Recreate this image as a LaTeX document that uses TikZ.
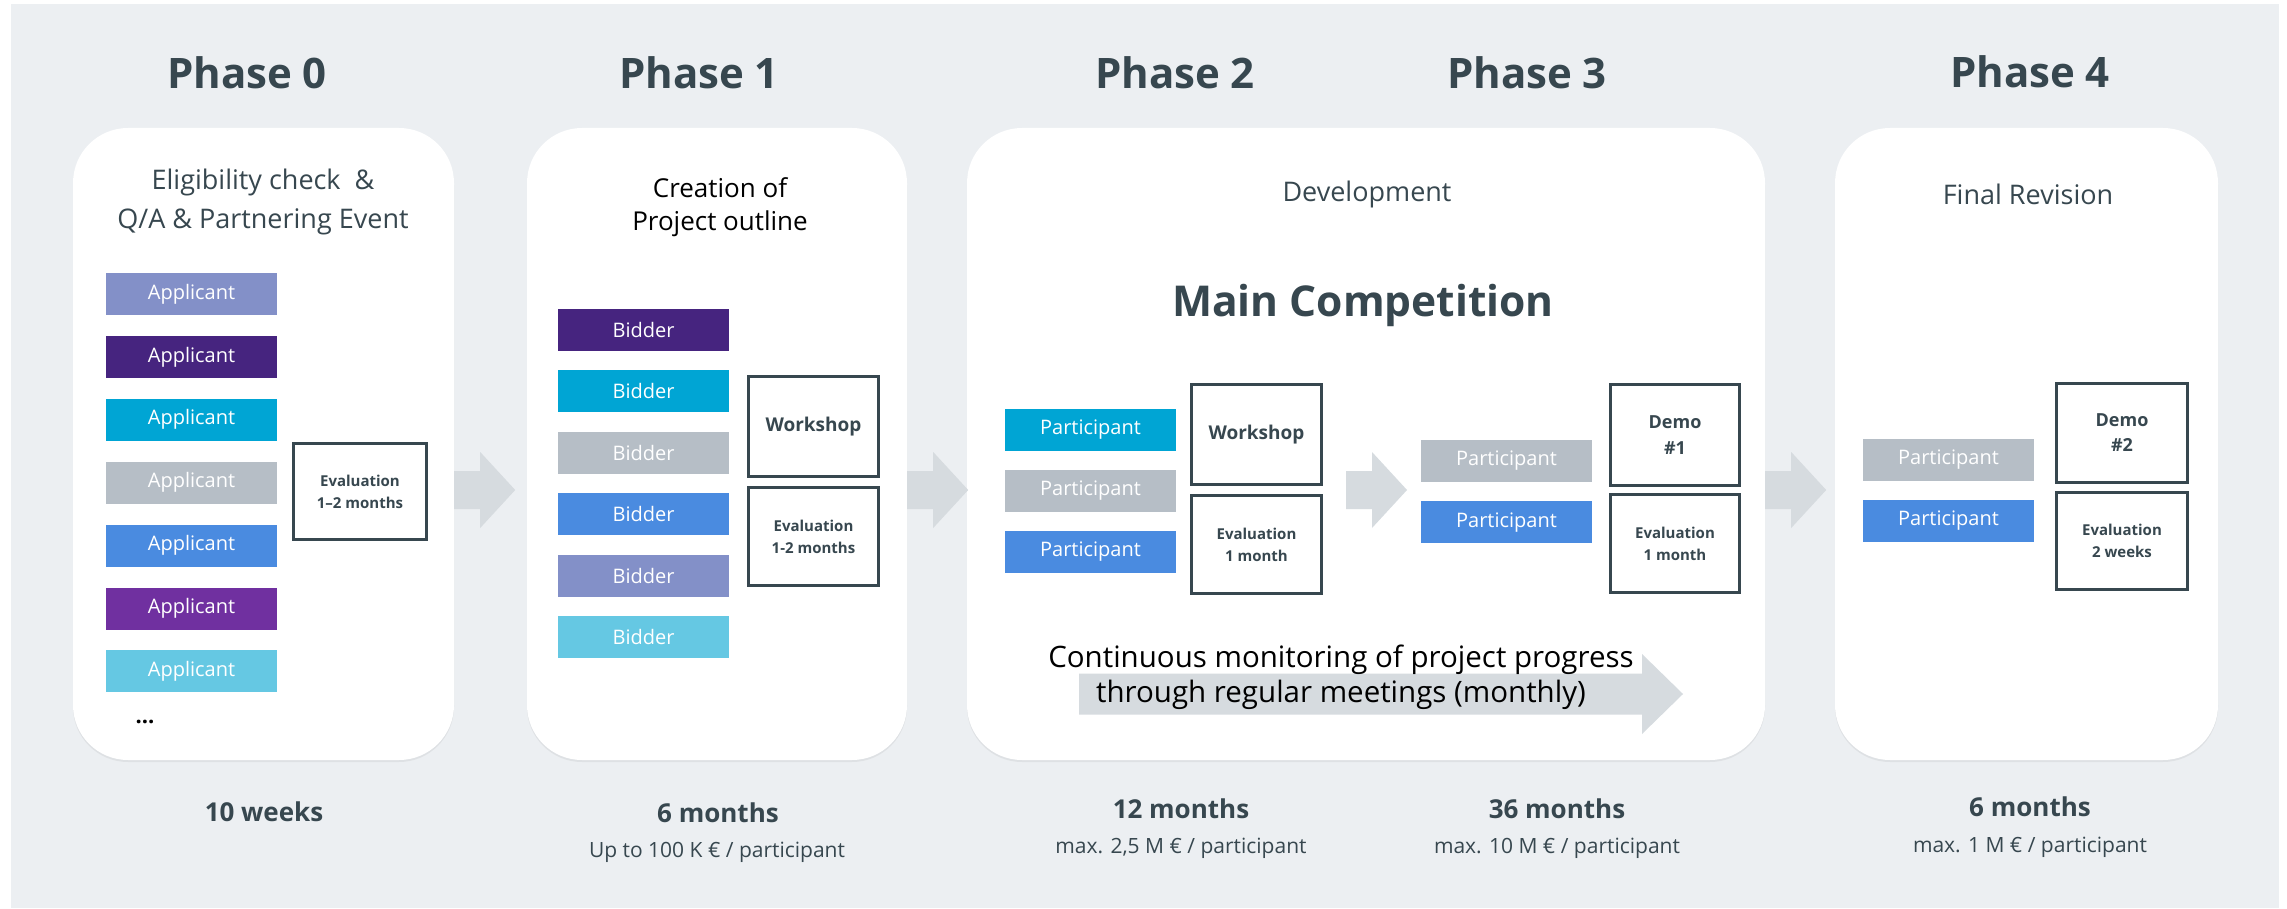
\documentclass[tikz,border=0pt]{standalone}
\usepackage{fontspec}
\setmainfont{Open Sans}
\usepackage{tikz}
\usetikzlibrary{positioning,shadows}
\definecolor{phzbg}{HTML}{ECEFF2}
\definecolor{phzslate}{HTML}{37474F}
\definecolor{phzflow}{HTML}{D6DBDF}
\definecolor{phzlav}{HTML}{8390C8}
\definecolor{phzplum}{HTML}{46247F}
\definecolor{phzcyan}{HTML}{00A5D4}
\definecolor{phzgrey}{HTML}{B6BEC6}
\definecolor{phzblue}{HTML}{4A8BE0}
\definecolor{phzviolet}{HTML}{7030A0}
\definecolor{phzsky}{HTML}{65C8E3}

% grey block arrow, starting at the given point (middle of its tail)
\newcommand{\phasearrow}[1]{%
  \fill[phzflow] (#1) ++(0,-19) -- ++(26,0) -- ++(0,-19) -- ++(35,38)
    -- ++(-35,38) -- ++(0,-19) -- ++(-26,0) -- cycle;}

\begin{document}
\begin{tikzpicture}[
    x=1pt, y=-1pt,
    every node/.style={align=center, inner sep=0pt},
    phasebox/.style={fill=white, rounded corners=55pt,
      drop shadow={shadow xshift=0pt, shadow yshift=-2pt, opacity=0.12}},
    title/.style={font=\fontsize{42}{48}\selectfont\bfseries, text=phzslate, anchor=base},
    header/.style={font=\fontsize{27}{39}\selectfont, text=phzslate},
    member/.style={minimum width=171pt, minimum height=42pt, text=white,
      font=\fontsize{20}{24}\selectfont},
    stepbox/.style={draw=phzslate, line width=3pt, fill=white, minimum width=130pt,
      minimum height=98pt, text=phzslate, font=\fontsize{15}{22}\selectfont\bfseries},
    duration/.style={font=\fontsize{26}{30}\selectfont\bfseries, text=phzslate},
    budget/.style={font=\fontsize{21}{25}\selectfont, text=phzslate}
]
    % canvas
    \fill[white] (0,0) rectangle (2287,909);
    \fill[phzbg] (11,4) rectangle (2279,908);
    \useasboundingbox (0,0) rectangle (2287,909);
    \coordinate (flow) at (0,490);

    % phase titles
    \node[title] (t0) at (247,89) {Phase 0};
    \node[title] (t1) at (699,89) {Phase 1};
    \node[title] (t2) at (1175,89) {Phase 2};
    \node[title] (t3) at (1527,89) {Phase 3};
    \node[title] (t4) at (2030,88) {Phase 4};

    % white phase cards
    \node[phasebox, minimum width=381pt, minimum height=632pt] (box0) at (263.5,444) {};
    \node[phasebox, minimum width=380pt, minimum height=632pt] (box1) at (717,444) {};
    \node[phasebox, minimum width=798pt, minimum height=632pt] (box23) at (1366,444) {};
    \node[phasebox, minimum width=383pt, minimum height=632pt] (box4) at (2026.5,444) {};

    % phase 0
    \node[header] (head0) at (263,201.5) {Eligibility check\ \ \&\\Q/A \& Partnering Event};
    \node[member, fill=phzlav] (app1) at (191.5,294) {Applicant};
    \node[member, fill=phzplum, below=20.5pt of app1] (app2) {Applicant};
    \node[member, fill=phzcyan, below=20.5pt of app2] (app3) {Applicant};
    \node[member, fill=phzgrey, below=20.5pt of app3] (app4) {Applicant};
    \node[member, fill=phzblue, below=20.5pt of app4] (app5) {Applicant};
    \node[member, fill=phzviolet, below=20.5pt of app5] (app6) {Applicant};
    \node[member, fill=phzsky, below=20.5pt of app6] (app7) {Applicant};
    \node[font=\fontsize{22}{24}\selectfont\bfseries] (appmore) at (145,722) {...};
    \node[stepbox, minimum width=133pt, minimum height=96pt] (eval0) at (360,491.5) {Evaluation\\1--2 months};

    % phase 1
    \node[header, text=black, font=\fontsize{26}{33}\selectfont] (head1) at (720,207.5) {Creation of\\Project outline};
    \node[member, fill=phzplum] (bid1) at (643.5,330) {Bidder};
    \node[member, fill=phzcyan, below=19pt of bid1] (bid2) {Bidder};
    \node[member, fill=phzgrey, below=19pt of bid2] (bid3) {Bidder};
    \node[member, fill=phzblue, below=19pt of bid3] (bid4) {Bidder};
    \node[member, fill=phzlav, below=19pt of bid4] (bid5) {Bidder};
    \node[member, fill=phzsky, below=19pt of bid5] (bid6) {Bidder};
    \node[stepbox, minimum height=100pt, font=\fontsize{19}{24}\selectfont\bfseries] (ws1) at (813.5,426.5) {Workshop};
    \node[stepbox] (ev1) at (813.5,536.5) {Evaluation\\1-2 months};

    % phases 2 and 3
    \node[header] (head23) at (1367,194.5) {Development};
    \node[font=\fontsize{42.5}{50}\selectfont\bfseries, text=phzslate] (maincomp) at (1363,305) {Main Competition};
    \node[member, fill=phzcyan] (par21) at (1090.5,430) {Participant};
    \node[member, fill=phzgrey, below=18.5pt of par21] (par22) {Participant};
    \node[member, fill=phzblue, below=18.5pt of par22] (par23) {Participant};
    \node[stepbox, minimum height=100pt, font=\fontsize{19}{24}\selectfont\bfseries] (ws2) at (1256.5,434.5) {Workshop};
    \node[stepbox] (ev2) at (1256.5,544.5) {Evaluation\\1 month};
    \node[member, fill=phzgrey] (par31) at (1506.5,461) {Participant};
    \node[member, fill=phzblue, below=19pt of par31] (par32) {Participant};
    \node[stepbox, minimum width=129pt, minimum height=101pt, font=\fontsize{18}{26}\selectfont\bfseries] (demo1) at (1675,435) {Demo\\\#1};
    \node[stepbox, minimum width=129pt] (ev3) at (1675,543.5) {Evaluation\\1 month};

    % monitoring band
    \fill[phzflow] (1079,694) ++(0,-20.5) -- ++(563,0) -- ++(0,-19.5) -- ++(41,40)
      -- ++(-41,40) -- ++(0,-19.5) -- ++(-563,0) -- cycle;
    \node[font=\fontsize{29.5}{35}\selectfont] (monitor) at (1341,677)
      {Continuous monitoring of project progress\\through regular meetings (monthly)};

    % phase 4
    \node[header] (head4) at (2028,194.5) {Final Revision};
    \node[member, fill=phzgrey] (par41) at (1948.5,459.5) {Participant};
    \node[member, fill=phzblue, below=19pt of par41] (par42) {Participant};
    \node[stepbox, minimum width=131pt, minimum height=99pt, font=\fontsize{18}{25}\selectfont\bfseries] (demo2) at (2122,433) {Demo\\\#2};
    \node[stepbox, minimum width=131pt, minimum height=97pt] (ev4) at (2122,541) {Evaluation\\2 weeks};

    % arrows between the phases
    \phasearrow{box0.east |- flow}
    \phasearrow{box1.east |- flow}
    \phasearrow{[xshift=23pt]ws2.east |- flow}
    \phasearrow{box23.east |- flow}

    % durations and budgets
    \node[duration] (dur0) at (264,812) {10 weeks};
    \node[duration] (dur1) at (718,813) {6 months};
    \node[budget] (bud1) at (717,852) {Up to 100 K € / participant};
    \node[duration] (dur2) at (1181,809) {12 months};
    \node[budget] (bud2) at (1181,848) {max. 2,5 M € / participant};
    \node[duration] (dur3) at (1557,809) {36 months};
    \node[budget] (bud3) at (1557,848) {max. 10 M € / participant};
    \node[duration] (dur4) at (2030,807) {6 months};
    \node[budget] (bud4) at (2030,847) {max. 1 M € / participant};
\end{tikzpicture}
\end{document}
